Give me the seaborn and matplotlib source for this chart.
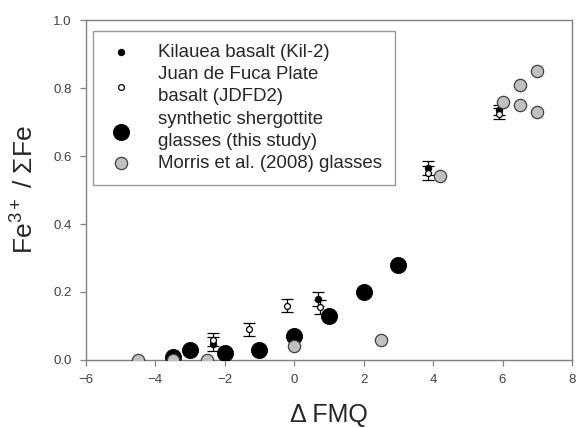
import numpy as np
import pandas as pd
import matplotlib
matplotlib.use("Agg")
import matplotlib.pyplot as plt
import seaborn as sns

# Kilauea basalt (Kil-2)
kil_x = [-2.35, 0.7, 3.85, 5.9]
kil_y = [0.047, 0.18, 0.565, 0.735]
kil_err = [0.02, 0.02, 0.02, 0.015]

# Juan de Fuca Plate basalt (JDFD2)
jdf_x = [-2.35, -1.3, -0.2, 0.75, 3.85, 5.9]
jdf_y = [0.06, 0.09, 0.16, 0.155, 0.55, 0.725]
jdf_err = [0.02, 0.02, 0.02, 0.02, 0.02, 0.015]

# synthetic shergottite glasses (this study)
syn_x = [-3.5, -3, -2, -1, 0, 1, 2, 3]
syn_y = [0.01, 0.03, 0.02, 0.03, 0.07, 0.13, 0.20, 0.28]

# Morris et al. (2008) glasses
mor_x = [-4.5, -3.5, -2.5, 0, 2.5, 4.2, 6, 6.5, 6.5, 7, 7]
mor_y = [0.0, 0.0, 0.0, 0.04, 0.06, 0.54, 0.76, 0.81, 0.75, 0.85, 0.73]

sns.set_style("ticks")
plt.rcParams['font.family'] = ['Liberation Sans', 'DejaVu Sans']
plt.rcParams['mathtext.fontset'] = 'custom'
plt.rcParams['mathtext.rm'] = 'Liberation Sans'
plt.rcParams['mathtext.it'] = 'Liberation Sans'

fig = plt.figure(figsize=(5.76, 4.28), dpi=100)
ax = fig.add_axes([0.149, 0.159, 0.844, 0.794])

# error bars first so the symbols sit on top
ax.errorbar(kil_x, kil_y, yerr=kil_err, fmt='none', ecolor='black',
            elinewidth=0.9, capsize=4, capthick=0.9, zorder=2)
ax.errorbar(jdf_x, jdf_y, yerr=jdf_err, fmt='none', ecolor='black',
            elinewidth=0.9, capsize=4, capthick=0.9, zorder=2)

sns.scatterplot(x=kil_x, y=kil_y, ax=ax, color='black', edgecolor='black',
                s=22, linewidth=0.6, label='Kilauea basalt (Kil-2)', zorder=3)
sns.scatterplot(x=jdf_x, y=jdf_y, ax=ax, color='white', edgecolor='black',
                s=18, linewidth=0.9, label='Juan de Fuca Plate\nbasalt (JDFD2)', zorder=3)
sns.scatterplot(x=syn_x, y=syn_y, ax=ax, color='black', edgecolor='black',
                s=135, linewidth=0.6, label='synthetic shergottite\nglasses (this study)', zorder=4)
sns.scatterplot(x=mor_x, y=mor_y, ax=ax, color='#c0c0c0', edgecolor='#404040',
                s=78, linewidth=0.9, label='Morris et al. (2008) glasses', zorder=5)

ax.set_xlim(-6, 8)
ax.set_ylim(0, 1.0)
ax.set_xticks(np.arange(-6, 9, 2))
ax.set_yticks(np.arange(0, 1.01, 0.2))
ax.set_yticklabels([f"{v:.1f}" for v in np.arange(0, 1.01, 0.2)])

for sp in ax.spines.values():
    sp.set_visible(True)
    sp.set_color('#808080')
    sp.set_linewidth(1.0)
ax.tick_params(direction='out', length=4, width=0.9, color='#808080',
               labelsize=9.5, labelcolor='#404040', pad=6)

ax.set_xlabel('Δ FMQ', fontsize=18, labelpad=12)
ax.set_ylabel('Fe$^{3+}$ / ΣFe', fontsize=19, labelpad=11)

leg = ax.legend(loc='upper left', bbox_to_anchor=(0.014, 0.968), fontsize=13.4,
                frameon=True, fancybox=False, edgecolor='#808080',
                handletextpad=1.2, borderpad=0.7, labelspacing=0.28,
                handlelength=1.6, borderaxespad=0)
leg.get_frame().set_linewidth(1.0)
for t in leg.get_texts():
    t.set_linespacing(1.4)

fig.savefig('out.png', dpi=100)
